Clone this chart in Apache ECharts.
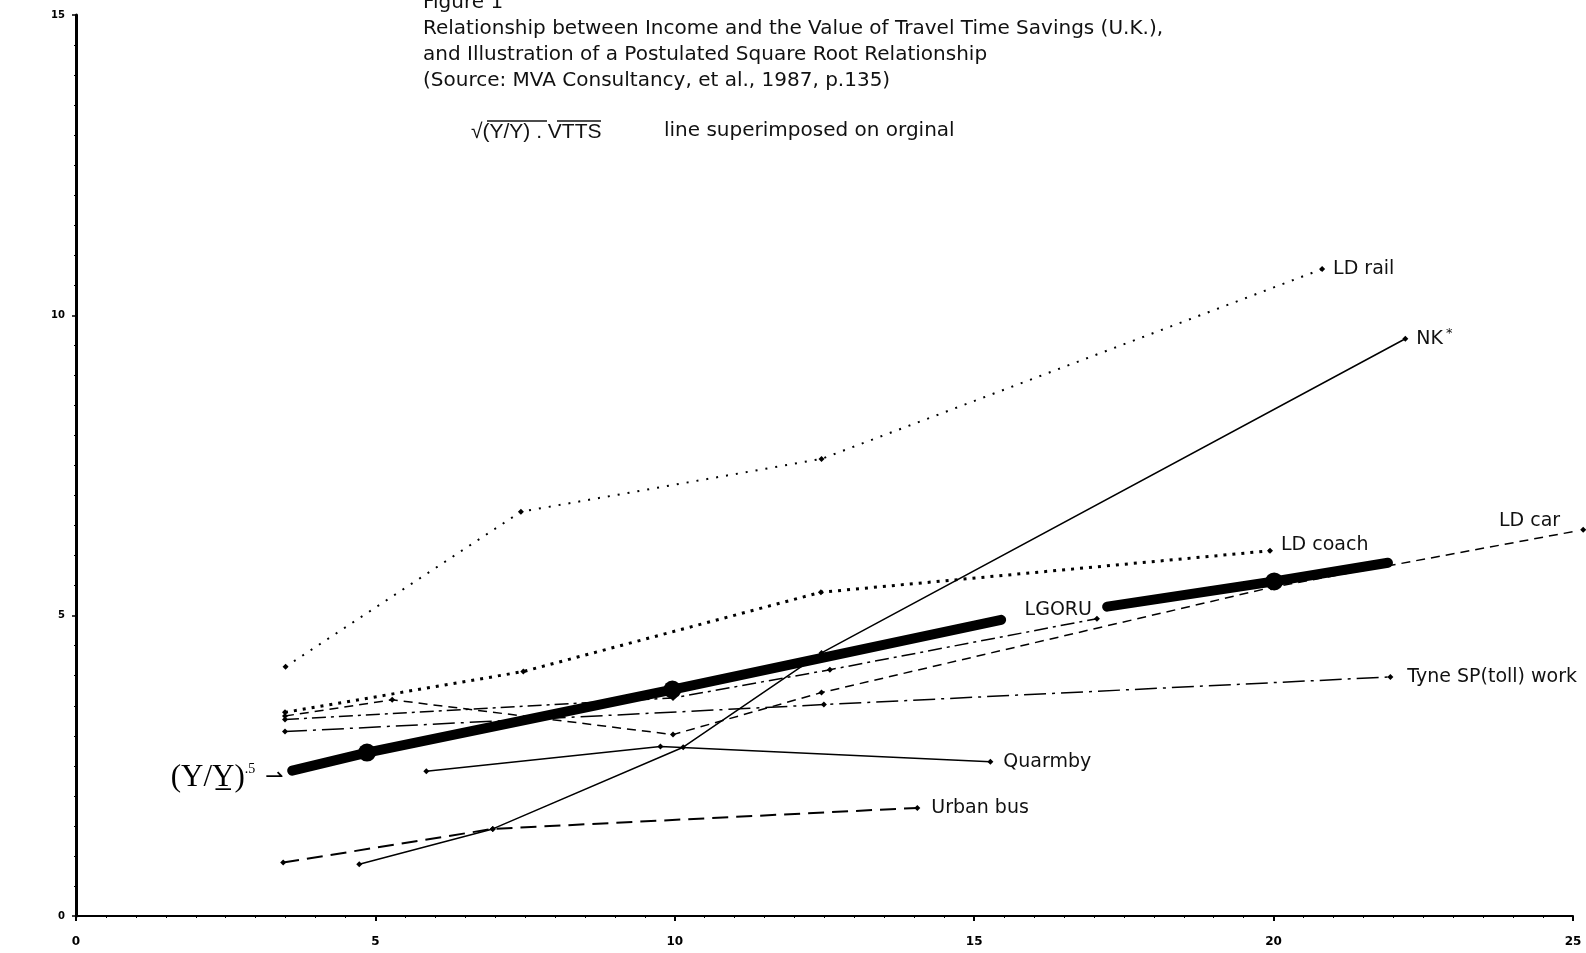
<!DOCTYPE html>
<html>
<head>
<meta charset="utf-8">
<title>Income and VTTS</title>
<script src="https://cdn.jsdelivr.net/npm/echarts@6/dist/echarts.min.js"></script>
<style>
  html, body { margin: 0; padding: 0; background: #fff; }
  #chart { width: 1586px; height: 953px; }
</style>
</head>
<body>
<div id="chart"></div>
<script>
'use strict';

// values (income on x, VTTS on y)
var ldRailX = [3.5, 7.43, 12.45, 20.81];
var ldRailY = [4.15, 6.73, 7.61, 10.77];
var nkX = [4.73, 6.96, 10.14, 12.45, 22.2];
var nkY = [0.86, 1.45, 2.81, 4.38, 9.61];
var ldCoachX = [3.49, 7.47, 12.44, 19.94];
var ldCoachY = [3.39, 4.07, 5.39, 6.08];
var ldCarX = [3.49, 5.28, 9.97, 12.45, 19.96, 25.17];
var ldCarY = [3.33, 3.6, 3.02, 3.72, 5.47, 6.43];
var lgoruX = [3.49, 9.97, 12.59, 17.05];
var lgoruY = [3.27, 3.63, 4.1, 4.95];
var tyneX = [3.49, 12.49, 21.95];
var tyneY = [3.07, 3.52, 3.98];
var quarmbyX = [5.85, 9.76, 15.27];
var quarmbyY = [2.41, 2.82, 2.57];
var urbanBusX = [3.46, 6.96, 14.05];
var urbanBusY = [0.89, 1.45, 1.8];
// superimposed sqrt(Y/Y).VTTS line, drawn in two pieces (gap for LGORU label)
var rootAX = [3.61, 4.86, 9.96, 15.45];
var rootAY = [2.42, 2.72, 3.77, 4.93];
var rootBX = [17.22, 20.01, 21.91];
var rootBY = [5.15, 5.57, 5.88];
var bigDotX = [4.86, 9.96, 20.01];

var titleLines = [
    'Figure 1',
    'Relationship between Income and the Value of Travel Time Savings (U.K.),',
    'and Illustration of a Postulated Square Root Relationship',
    '(Source: MVA Consultancy, et al., 1987, p.135)'
];

var myChart = echarts.init(document.getElementById('chart'));

var labelFont = {
    color: '#111',
    fontFamily: 'DejaVu Sans',
    fontSize: 19
};

function makeLine(name, xs, ys, lineStyle, endLabel, labelOpt, extra) {
    var data = xs.map(function (x, i) {
        return [x, ys[i]];
    });
    if (endLabel) {
        var last = data.length - 1;
        data[last] = {
            value: data[last],
            label: Object.assign({show: true, formatter: endLabel, position: 'right', distance: 8}, labelFont, labelOpt || {})
        };
    }
    return Object.assign({
        type: 'line',
        name: name,
        data: data,
        symbol: 'diamond',
        symbolSize: 6,
        itemStyle: {color: '#000'},
        lineStyle: Object.assign({color: '#000', width: 1.5}, lineStyle),
        label: {show: false},
        silent: true,
        animation: false,
        z: 3
    }, extra || {});
}

var series = [
    makeLine('LD rail', ldRailX, ldRailY, {width: 2, type: [2, 8]}, 'LD rail'),
    makeLine('NK*', nkX, nkY, {width: 1.5}, '{a|NK}{b|*}', {
        rich: {a: {fontSize: 19, fontFamily: 'DejaVu Sans'}, b: {fontSize: 13, verticalAlign: 'top', padding: [0, 0, 10, 3]}}
    }),
    makeLine('LD coach', ldCoachX, ldCoachY, {width: 3, type: [3, 6]}, 'LD coach', {position: 'right', offset: [0, -6]}),
    makeLine('LD car', ldCarX, ldCarY, {width: 1.5, type: [9, 6]}, 'LD car', {position: 'left', distance: 20, offset: [0, -9]}, {clip: false}),
    makeLine('LGORU', lgoruX, lgoruY, {width: 1.5, type: [14, 5, 3, 5]}, 'LGORU', {position: 'left', distance: 2, offset: [0, -9]}),
    makeLine('Tyne SP(toll) work', tyneX, tyneY, {width: 1.5, type: [22, 6, 3, 6]}, 'Tyne SP(toll) work', {distance: 14}),
    makeLine('Quarmby', quarmbyX, quarmbyY, {width: 1.5}, 'Quarmby', {distance: 10}),
    makeLine('Urban bus', urbanBusX, urbanBusY, {width: 2, type: [16, 8]}, 'Urban bus', {distance: 11}),
    {
        type: 'line',
        name: 'sqrt A',
        data: rootAX.map(function (x, i) {
            var p = [x, rootAY[i]];
            if (i === 0) {
                return {
                    value: p,
                    label: {
                        show: true,
                        position: 'left',
                        distance: 8,
                        offset: [0, 7],
                        formatter: '{p|(Y/Y\u0332)}{s|.5}   {a|\u21c0}',
                        rich: {
                            p: {fontFamily: 'Liberation Serif', fontSize: 31, color: '#000'},
                            s: {fontFamily: 'Liberation Serif', fontSize: 14, color: '#000', verticalAlign: 'top', padding: [0, 0, 16, 0]},
                            a: {fontFamily: 'DejaVu Sans', fontSize: 22, color: '#000'}
                        }
                    }
                };
            }
            return p;
        }),
        symbol: 'circle',
        symbolSize: 1,
        showSymbol: true,
        itemStyle: {color: '#000'},
        lineStyle: {color: '#000', width: 10, cap: 'round'},
        silent: true,
        animation: false,
        z: 4
    },
    {
        type: 'line',
        name: 'sqrt B',
        data: rootBX.map(function (x, i) {
            return [x, rootBY[i]];
        }),
        showSymbol: false,
        lineStyle: {color: '#000', width: 10, cap: 'round'},
        silent: true,
        animation: false,
        z: 4
    },
    {
        type: 'scatter',
        name: 'big dots',
        data: bigDotX.map(function (x) {
            var all = rootAX.concat(rootBX);
            var ally = rootAY.concat(rootBY);
            return [x, ally[all.indexOf(x)]];
        }),
        symbol: 'circle',
        symbolSize: 18,
        itemStyle: {color: '#000', opacity: 1},
        silent: true,
        animation: false,
        z: 5
    }
];

var titleFont = '20px "DejaVu Sans"';
var graphic = titleLines.map(function (t, i) {
    return {
        type: 'text',
        left: 423,
        top: -7 + i * 26,
        style: {text: t, font: titleFont, fill: '#111'}
    };
});
graphic.push(
    {type: 'text', left: 471, top: 122, style: {text: '\u221a(Y/Y) . VTTS', font: '21px "Liberation Sans"', fill: '#111'}},
    {type: 'line', shape: {x1: 487, y1: 121, x2: 547, y2: 121}, style: {stroke: '#111', lineWidth: 1.5}},
    {type: 'line', shape: {x1: 557, y1: 121, x2: 601, y2: 121}, style: {stroke: '#111', lineWidth: 1.5}},
    {type: 'text', left: 664, top: 121, style: {text: 'line superimposed on orginal', font: titleFont, fill: '#111'}}
);

var option = {
    backgroundColor: '#fff',
    animation: false,
    grid: {left: 76, right: 13, top: 15, bottom: 37, containLabel: false},
    xAxis: {
        type: 'value',
        min: 0,
        max: 25,
        interval: 5,
        axisLine: {show: true, lineStyle: {color: '#000', width: 2}},
        axisTick: {show: true, length: 5, lineStyle: {color: '#000', width: 2}},
        minorTick: {show: true, splitNumber: 10, length: 2, lineStyle: {color: '#000'}},
        axisLabel: {color: '#000', fontSize: 12, fontWeight: 'bold', margin: 20, fontFamily: 'DejaVu Sans'},
        splitLine: {show: false}
    },
    yAxis: {
        type: 'value',
        min: 0,
        max: 15,
        interval: 5,
        axisLine: {show: true, lineStyle: {color: '#000', width: 3}},
        axisTick: {show: true, length: 4, lineStyle: {color: '#000', width: 1.5}},
        minorTick: {show: true, splitNumber: 10, length: 2, lineStyle: {color: '#000'}},
        axisLabel: {color: '#000', fontSize: 10, fontWeight: 'bold', margin: 11, fontFamily: 'DejaVu Sans'},
        splitLine: {show: false}
    },
    graphic: graphic,
    series: series
};

myChart.setOption(option);
</script>
</body>
</html>
